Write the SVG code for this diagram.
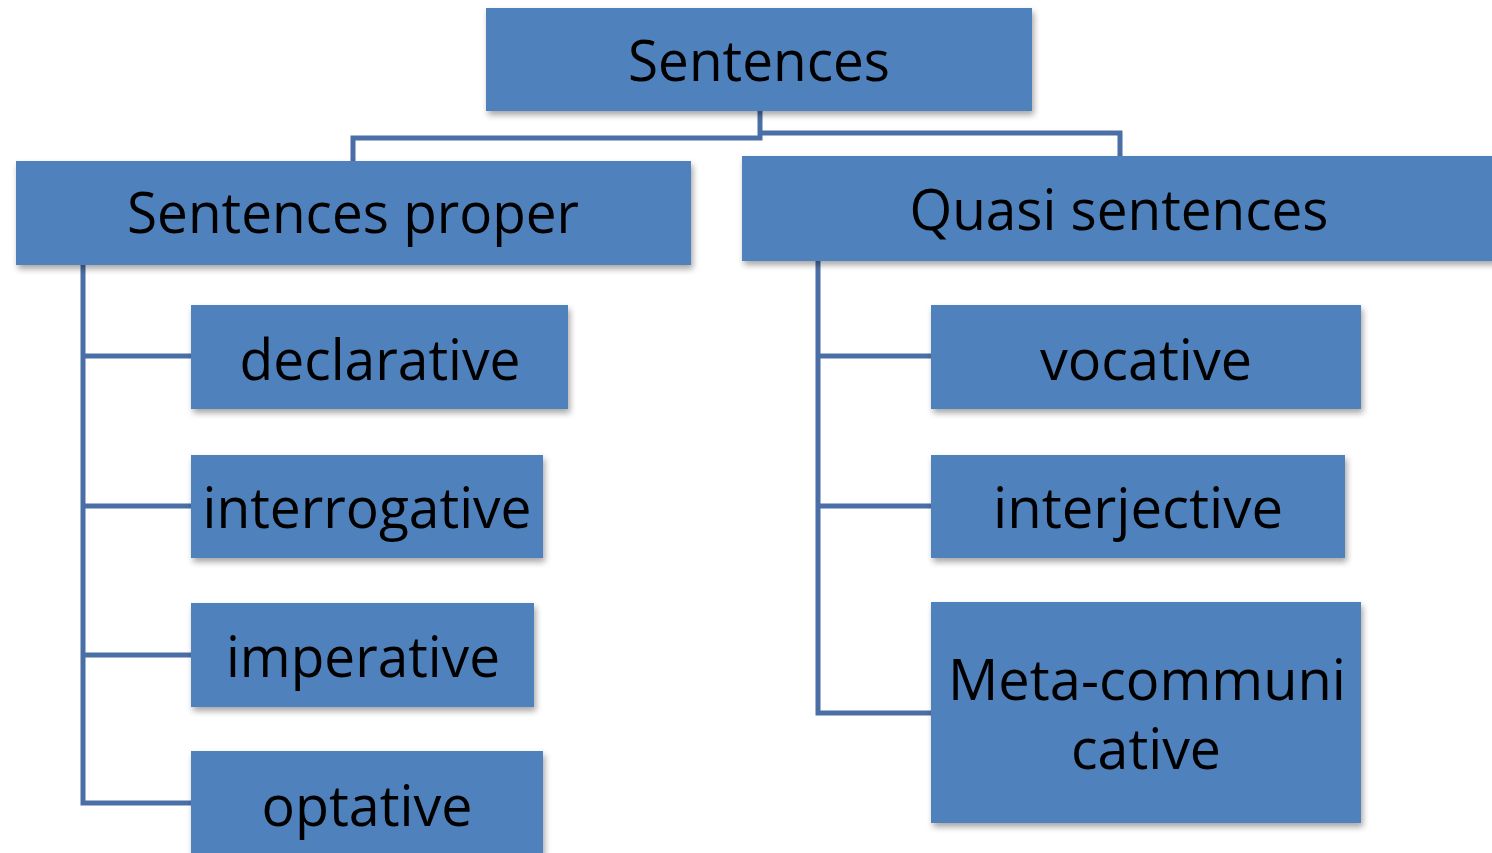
<svg xmlns="http://www.w3.org/2000/svg" width="1492" height="853" viewBox="0 0 1492 853">
  <defs>
    <filter id="shadow" x="-5%" y="-10%" width="115%" height="130%">
      <feDropShadow dx="2" dy="4" stdDeviation="3" flood-color="#000" flood-opacity="0.35"/>
    </filter>
  </defs>
  <style>
    .box { fill: #4f81bd; filter: url(#shadow); }
    .label { font-family: "Open Sans", "Noto Sans", "Liberation Sans", sans-serif; font-size: 57px; fill: #000; text-anchor: middle; }
    .conn { fill: none; stroke: #4a6fa6; stroke-width: 5; stroke-linejoin: miter; }
  </style>
  <rect width="1492" height="853" fill="#fff"/>

  <g id="connectors">
    <path class="conn" d="M760 111 V138 H353 V161"/>
    <path class="conn" d="M760 133 H1120 V156"/>
    <path class="conn" d="M83 265 V803 H191 M83 356 H191 M83 506 H191 M83 655 H191"/>
    <path class="conn" d="M818 261 V713 H931 M818 356 H931 M818 506 H931"/>
  </g>

  <g id="sentences">
    <rect class="box" x="486" y="8" width="546" height="103"/>
    <text class="label" x="759" y="81" textLength="262" lengthAdjust="spacingAndGlyphs">Sentences</text>
  </g>
  <g id="sentences-proper">
    <rect class="box" x="16" y="161" width="675" height="104"/>
    <text class="label" x="353" y="233" textLength="452" lengthAdjust="spacingAndGlyphs">Sentences proper</text>
  </g>
  <g id="quasi-sentences">
    <rect class="box" x="742" y="156" width="755" height="105"/>
    <text class="label" x="1119" y="230" textLength="419" lengthAdjust="spacingAndGlyphs">Quasi sentences</text>
  </g>
  <g id="declarative">
    <rect class="box" x="191" y="305" width="377" height="104"/>
    <text class="label" x="380" y="380" textLength="281" lengthAdjust="spacingAndGlyphs">declarative</text>
  </g>
  <g id="interrogative">
    <rect class="box" x="191" y="455" width="352" height="103"/>
    <text class="label" x="367" y="528" textLength="329" lengthAdjust="spacingAndGlyphs">interrogative</text>
  </g>
  <g id="imperative">
    <rect class="box" x="191" y="603" width="343" height="104"/>
    <text class="label" x="363" y="677" textLength="274" lengthAdjust="spacingAndGlyphs">imperative</text>
  </g>
  <g id="optative">
    <rect class="box" x="191" y="751" width="352" height="110"/>
    <text class="label" x="367" y="826" textLength="211" lengthAdjust="spacingAndGlyphs">optative</text>
  </g>
  <g id="vocative">
    <rect class="box" x="931" y="305" width="430" height="104"/>
    <text class="label" x="1146" y="380" textLength="212" lengthAdjust="spacingAndGlyphs">vocative</text>
  </g>
  <g id="interjective">
    <rect class="box" x="931" y="455" width="414" height="103"/>
    <text class="label" x="1138" y="528" textLength="290" lengthAdjust="spacingAndGlyphs">interjective</text>
  </g>
  <g id="meta-communicative">
    <rect class="box" x="931" y="602" width="430" height="221"/>
    <text class="label"><tspan x="1147" y="700" textLength="398" lengthAdjust="spacingAndGlyphs">Meta-communi</tspan><tspan x="1146" y="769" textLength="150" lengthAdjust="spacingAndGlyphs">cative</tspan></text>
  </g>
</svg>
